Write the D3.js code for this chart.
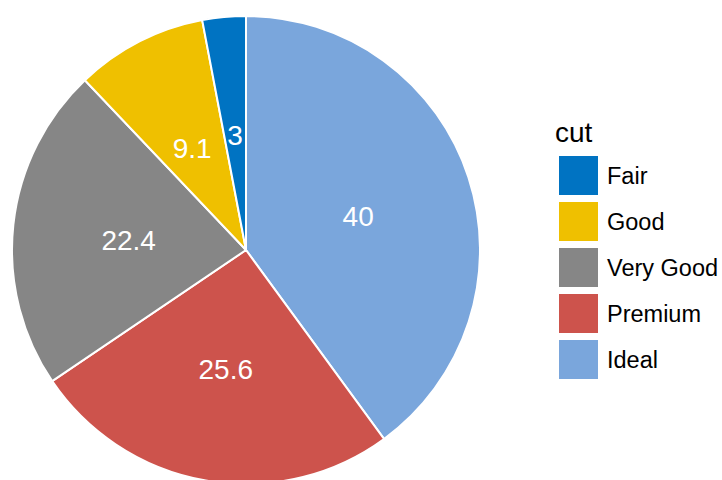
<!DOCTYPE html>
<html>
<head>
<meta charset="utf-8">
<script src="https://cdn.jsdelivr.net/npm/d3@7"></script>
<style>
  html, body { margin: 0; padding: 0; background: #ffffff; }
  svg { display: block; font-family: "Liberation Sans", Arial, Helvetica, sans-serif; }
</style>
</head>
<body>
<svg id="chart" width="722" height="480"></svg>
<script>
// Share of diamonds by cut (percent)
const categories = ["Fair", "Good", "Very Good", "Premium", "Ideal"];
const values = [3, 9.1, 22.4, 25.6, 40];
const colors = ["#0073C2", "#EFC000", "#868686", "#CD534C", "#7AA6DC"];
const legendTitle = "cut";

const W = 722, H = 480;
const cx = 246, cy = 250, radius = 234, labelRadius = 118;

const svg = d3.select("#chart");
const color = d3.scaleOrdinal().domain(categories).range(colors);

const data = categories.map((c, i) => ({ cat: c, value: values[i] }));

// Slices run clockwise from 12 o'clock starting with the last category,
// so the first category ends just left of the top.
const pie = d3.pie()
  .sort(null)
  .value(d => d.value);
const arcs = pie(data.slice().reverse());

const arc = d3.arc().innerRadius(0).outerRadius(radius);
const labelArc = d3.arc().innerRadius(labelRadius).outerRadius(labelRadius);

const g = svg.append("g").attr("transform", `translate(${cx},${cy})`);

g.selectAll("path.slice")
  .data(arcs)
  .join("path")
  .attr("class", "slice")
  .attr("d", arc)
  .attr("fill", d => color(d.data.cat))
  .attr("stroke", "#ffffff")
  .attr("stroke-width", 2)
  .attr("stroke-linejoin", "round");

g.selectAll("text.value")
  .data(arcs)
  .join("text")
  .attr("class", "value")
  .attr("transform", d => {
    const [x, y] = labelArc.centroid(d);
    return `translate(${x},${y + 12.5})`;
  })
  .attr("text-anchor", "middle")
  .attr("fill", "#ffffff")
  .attr("font-size", 28)
  .text(d => d.data.value);

// Legend
const legend = svg.append("g").attr("transform", "translate(555,0)");
legend.append("text")
  .attr("x", 0)
  .attr("y", 142)
  .attr("font-size", 28)
  .attr("fill", "#000000")
  .text(legendTitle);

const keySize = 39, keyStep = 46, keyTop = 156;
const items = legend.selectAll("g.item")
  .data(categories)
  .join("g")
  .attr("class", "item")
  .attr("transform", (d, i) => `translate(4,${keyTop + i * keyStep})`);

items.append("rect")
  .attr("width", keySize)
  .attr("height", keySize)
  .attr("fill", d => color(d));

items.append("text")
  .attr("x", 48)
  .attr("y", keySize / 2 + 8.5)
  .attr("font-size", 23.5)
  .attr("fill", "#000000")
  .text(d => d);
</script>
</body>
</html>
